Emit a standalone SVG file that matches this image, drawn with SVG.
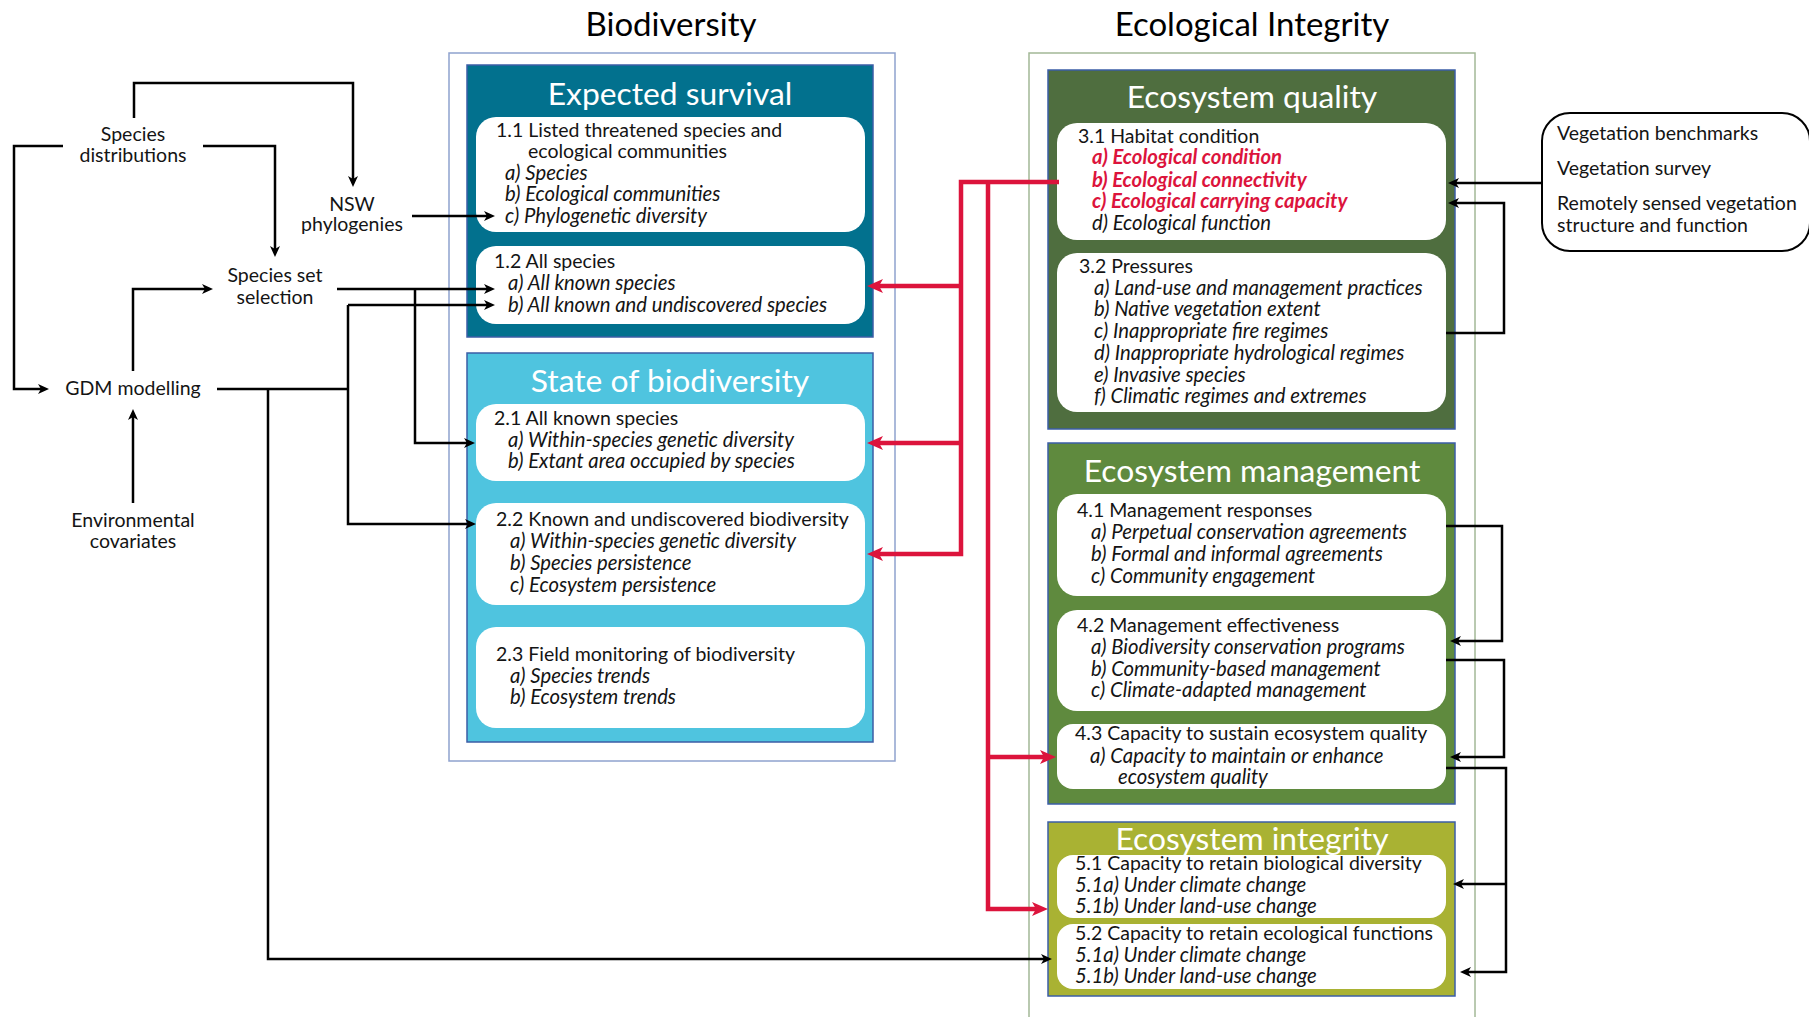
<svg xmlns="http://www.w3.org/2000/svg" width="1809" height="1017" viewBox="0 0 1809 1017">
  <style>
    .t { font-family: Lato, "Liberation Sans", sans-serif; font-size: 19.5px; fill: #141414; }
    .it { font-style: italic; font-size: 20.3px; }
    .hi { fill: #DC143C; font-weight: bold; font-style: italic; font-size: 20.3px; }
    .c { text-anchor: middle; }
    .ttl { font-family: Lato, "Liberation Sans", sans-serif; font-size: 31.8px; fill: #ffffff; text-anchor: middle; }
    .head { font-family: Lato, "Liberation Sans", sans-serif; font-size: 33px; fill: #000000; text-anchor: middle; }
    .panel { stroke: #3B5EA6; stroke-width: 1.5; }
    .card { fill: #ffffff; }
    .conn { fill: none; stroke: #000000; stroke-width: 2.5; }
    .rconn { fill: none; stroke: #DC143C; stroke-width: 4.5; }
  </style>
  <defs>
    <marker id="arr" markerUnits="userSpaceOnUse" viewBox="0 0 11 11" markerWidth="11" markerHeight="11" refX="4" refY="5.5" orient="auto">
      <path d="M0,0.5 L11,5.5 L0,10.5 L3,5.5 Z" fill="#000000"/>
    </marker>
    <marker id="rarr" markerUnits="userSpaceOnUse" viewBox="0 0 16 16" markerWidth="16" markerHeight="16" refX="6" refY="8" orient="auto">
      <path d="M0,1 L16,8 L0,15 L4,8 Z" fill="#DC143C"/>
    </marker>
  </defs>

  <rect width="1809" height="1017" fill="#ffffff"/>

  <!-- column headings and frames -->
  <text class="head" x="671" y="36">Biodiversity</text>
  <text class="head" x="1252" y="36">Ecological Integrity</text>
  <rect x="449" y="53" width="446" height="708" fill="none" stroke="#8FA2CE" stroke-width="1.5"/>
  <rect x="1029" y="53" width="446" height="1010" fill="none" stroke="#A3B897" stroke-width="1.5"/>

  <!-- Expected survival -->
  <g id="expected-survival">
    <rect class="panel" x="467" y="65" width="406" height="272" fill="#02718E"/>
    <text class="ttl" x="670" y="105">Expected survival</text>
    <g id="es-1-1">
      <rect class="card" x="476" y="117" width="389" height="115" rx="20"/>
      <text class="t" x="496" y="137">1.1 Listed threatened species and</text>
      <text class="t" x="528" y="158">ecological communities</text>
      <text class="t it" x="505" y="180">a) Species</text>
      <text class="t it" x="505" y="201">b) Ecological communities</text>
      <text class="t it" x="505" y="223">c) Phylogenetic diversity</text>
    </g>
    <g id="es-1-2">
      <rect class="card" x="476" y="246" width="389" height="78" rx="20"/>
      <text class="t" x="494" y="268">1.2 All species</text>
      <text class="t it" x="508" y="290">a) All known species</text>
      <text class="t it" x="508" y="312">b) All known and undiscovered species</text>
    </g>
  </g>

  <!-- State of biodiversity -->
  <g id="state-of-biodiversity">
    <rect class="panel" x="467" y="353" width="406" height="389" fill="#4FC4DF"/>
    <text class="ttl" x="670" y="392">State of biodiversity</text>
    <g id="sb-2-1">
      <rect class="card" x="476" y="404" width="389" height="77" rx="20"/>
      <text class="t" x="494" y="425">2.1 All known species</text>
      <text class="t it" x="508" y="447">a) Within-species genetic diversity</text>
      <text class="t it" x="508" y="468">b) Extant area occupied by species</text>
    </g>
    <g id="sb-2-2">
      <rect class="card" x="476" y="503" width="389" height="102" rx="20"/>
      <text class="t" x="496" y="526">2.2 Known and undiscovered biodiversity</text>
      <text class="t it" x="510" y="548">a) Within-species genetic diversity</text>
      <text class="t it" x="510" y="570">b) Species persistence</text>
      <text class="t it" x="510" y="592">c) Ecosystem persistence</text>
    </g>
    <g id="sb-2-3">
      <rect class="card" x="476" y="627" width="389" height="101" rx="20"/>
      <text class="t" x="496" y="661">2.3 Field monitoring of biodiversity</text>
      <text class="t it" x="510" y="683">a) Species trends</text>
      <text class="t it" x="510" y="704">b) Ecosystem trends</text>
    </g>
  </g>

  <!-- Ecosystem quality -->
  <g id="ecosystem-quality">
    <rect class="panel" x="1048" y="70" width="407" height="359" fill="#4F6E3F"/>
    <text class="ttl" x="1252" y="108">Ecosystem quality</text>
    <g id="eq-3-1">
      <rect class="card" x="1057" y="123" width="389" height="117" rx="20"/>
      <text class="t" x="1078" y="143">3.1 Habitat condition</text>
      <text class="t hi" x="1092" y="164">a) Ecological condition</text>
      <text class="t hi" x="1092" y="187">b) Ecological connectivity</text>
      <text class="t hi" x="1092" y="208">c) Ecological carrying capacity</text>
      <text class="t it" x="1092" y="230">d) Ecological function</text>
    </g>
    <g id="eq-3-2">
      <rect class="card" x="1057" y="253" width="389" height="159" rx="20"/>
      <text class="t" x="1079" y="273">3.2 Pressures</text>
      <text class="t it" x="1094" y="295">a) Land-use and management practices</text>
      <text class="t it" x="1094" y="316">b) Native vegetation extent</text>
      <text class="t it" x="1094" y="338">c) Inappropriate fire regimes</text>
      <text class="t it" x="1094" y="360">d) Inappropriate hydrological regimes</text>
      <text class="t it" x="1094" y="382">e) Invasive species</text>
      <text class="t it" x="1094" y="403">f) Climatic regimes and extremes</text>
    </g>
  </g>

  <!-- Ecosystem management -->
  <g id="ecosystem-management">
    <rect class="panel" x="1048" y="443" width="407" height="361" fill="#5F8A3E"/>
    <text class="ttl" x="1252" y="482">Ecosystem management</text>
    <g id="em-4-1">
      <rect class="card" x="1057" y="494" width="389" height="102" rx="20"/>
      <text class="t" x="1077" y="517">4.1 Management responses</text>
      <text class="t it" x="1091" y="539">a) Perpetual conservation agreements</text>
      <text class="t it" x="1091" y="561">b) Formal and informal agreements</text>
      <text class="t it" x="1091" y="583">c) Community engagement</text>
    </g>
    <g id="em-4-2">
      <rect class="card" x="1057" y="610" width="389" height="101" rx="20"/>
      <text class="t" x="1077" y="632">4.2 Management effectiveness</text>
      <text class="t it" x="1091" y="654">a) Biodiversity conservation programs</text>
      <text class="t it" x="1091" y="676">b) Community-based management</text>
      <text class="t it" x="1091" y="697">c) Climate-adapted management</text>
    </g>
    <g id="em-4-3">
      <rect class="card" x="1057" y="724" width="389" height="65" rx="16"/>
      <text class="t" x="1075" y="740">4.3 Capacity to sustain ecosystem quality</text>
      <text class="t it" x="1090" y="762.5">a) Capacity to maintain or enhance</text>
      <text class="t it" x="1118" y="784">ecosystem quality</text>
    </g>
  </g>

  <!-- Ecosystem integrity -->
  <g id="ecosystem-integrity">
    <rect class="panel" x="1048" y="822" width="407" height="174" fill="#A9B233"/>
    <text class="ttl" x="1252" y="850">Ecosystem integrity</text>
    <g id="ei-5-1">
      <rect class="card" x="1057" y="855" width="389" height="63" rx="16"/>
      <text class="t" x="1075" y="870">5.1 Capacity to retain biological diversity</text>
      <text class="t it" x="1075" y="892">5.1a) Under climate change</text>
      <text class="t it" x="1075" y="913">5.1b) Under land-use change</text>
    </g>
    <g id="ei-5-2">
      <rect class="card" x="1057" y="924" width="389" height="65" rx="16"/>
      <text class="t" x="1075" y="940">5.2 Capacity to retain ecological functions</text>
      <text class="t it" x="1075" y="962">5.1a) Under climate change</text>
      <text class="t it" x="1075" y="983">5.1b) Under land-use change</text>
    </g>
  </g>

  <!-- input data sources -->
  <g id="species-distributions">
    <text class="t c" x="133" y="141">Species</text>
    <text class="t c" x="133" y="162">distributions</text>
  </g>
  <g id="nsw-phylogenies">
    <text class="t c" x="352" y="211">NSW</text>
    <text class="t c" x="352" y="231">phylogenies</text>
  </g>
  <g id="species-set-selection">
    <text class="t c" x="275" y="282">Species set</text>
    <text class="t c" x="275" y="304">selection</text>
  </g>
  <g id="gdm-modelling">
    <text class="t c" x="133" y="395">GDM modelling</text>
  </g>
  <g id="environmental-covariates">
    <text class="t c" x="133" y="527">Environmental</text>
    <text class="t c" x="133" y="548">covariates</text>
  </g>
  <g id="vegetation-data">
    <rect x="1542" y="113" width="268" height="138" rx="28" fill="#ffffff" stroke="#000000" stroke-width="2"/>
    <text class="t" x="1557" y="140">Vegetation benchmarks</text>
    <text class="t" x="1557" y="175">Vegetation survey</text>
    <text class="t" x="1557" y="210">Remotely sensed vegetation</text>
    <text class="t" x="1557" y="232">structure and function</text>
  </g>

  <!-- connectors -->
  <g id="connectors">
    <path class="conn" d="M134,118 V83 H353 V180" marker-end="url(#arr)"/>
    <path class="conn" d="M63,146 H14 V389 H42" marker-end="url(#arr)"/>
    <path class="conn" d="M203,146 H275 V250" marker-end="url(#arr)"/>
    <path class="conn" d="M133,371 V289 H206" marker-end="url(#arr)"/>
    <path class="conn" d="M133,503 V416" marker-end="url(#arr)"/>
    <path class="conn" d="M412,216 H488" marker-end="url(#arr)"/>
    <path class="conn" d="M337,289 H488" marker-end="url(#arr)"/>
    <path class="conn" d="M415,289 V443 H468" marker-end="url(#arr)"/>
    <path class="conn" d="M348,305 H488" marker-end="url(#arr)"/>
    <path class="conn" d="M348,305 V524 H469" marker-end="url(#arr)"/>
    <path class="conn" d="M217,389 H348"/>
    <path class="conn" d="M268,389 V959 H1045" marker-end="url(#arr)"/>

    <path class="conn" d="M1542,183 H1455" marker-end="url(#arr)"/>
    <path class="conn" d="M1446,333 H1504 V203 H1455" marker-end="url(#arr)"/>
    <path class="conn" d="M1446,526 H1502 V641 H1457" marker-end="url(#arr)"/>
    <path class="conn" d="M1446,660 H1504 V757 H1457" marker-end="url(#arr)"/>
    <path class="conn" d="M1446,768 H1506 V972 H1467" marker-end="url(#arr)"/>
    <path class="conn" d="M1506,884 H1460" marker-end="url(#arr)"/>

    <path class="rconn" d="M1059,182 H961 V554 H877" marker-end="url(#rarr)"/>
    <path class="rconn" d="M961,286 H877" marker-end="url(#rarr)"/>
    <path class="rconn" d="M961,443 H877" marker-end="url(#rarr)"/>
    <path class="rconn" d="M988,182 V909 H1038" marker-end="url(#rarr)"/>
    <path class="rconn" d="M988,757 H1046" marker-end="url(#rarr)"/>
  </g>
</svg>
